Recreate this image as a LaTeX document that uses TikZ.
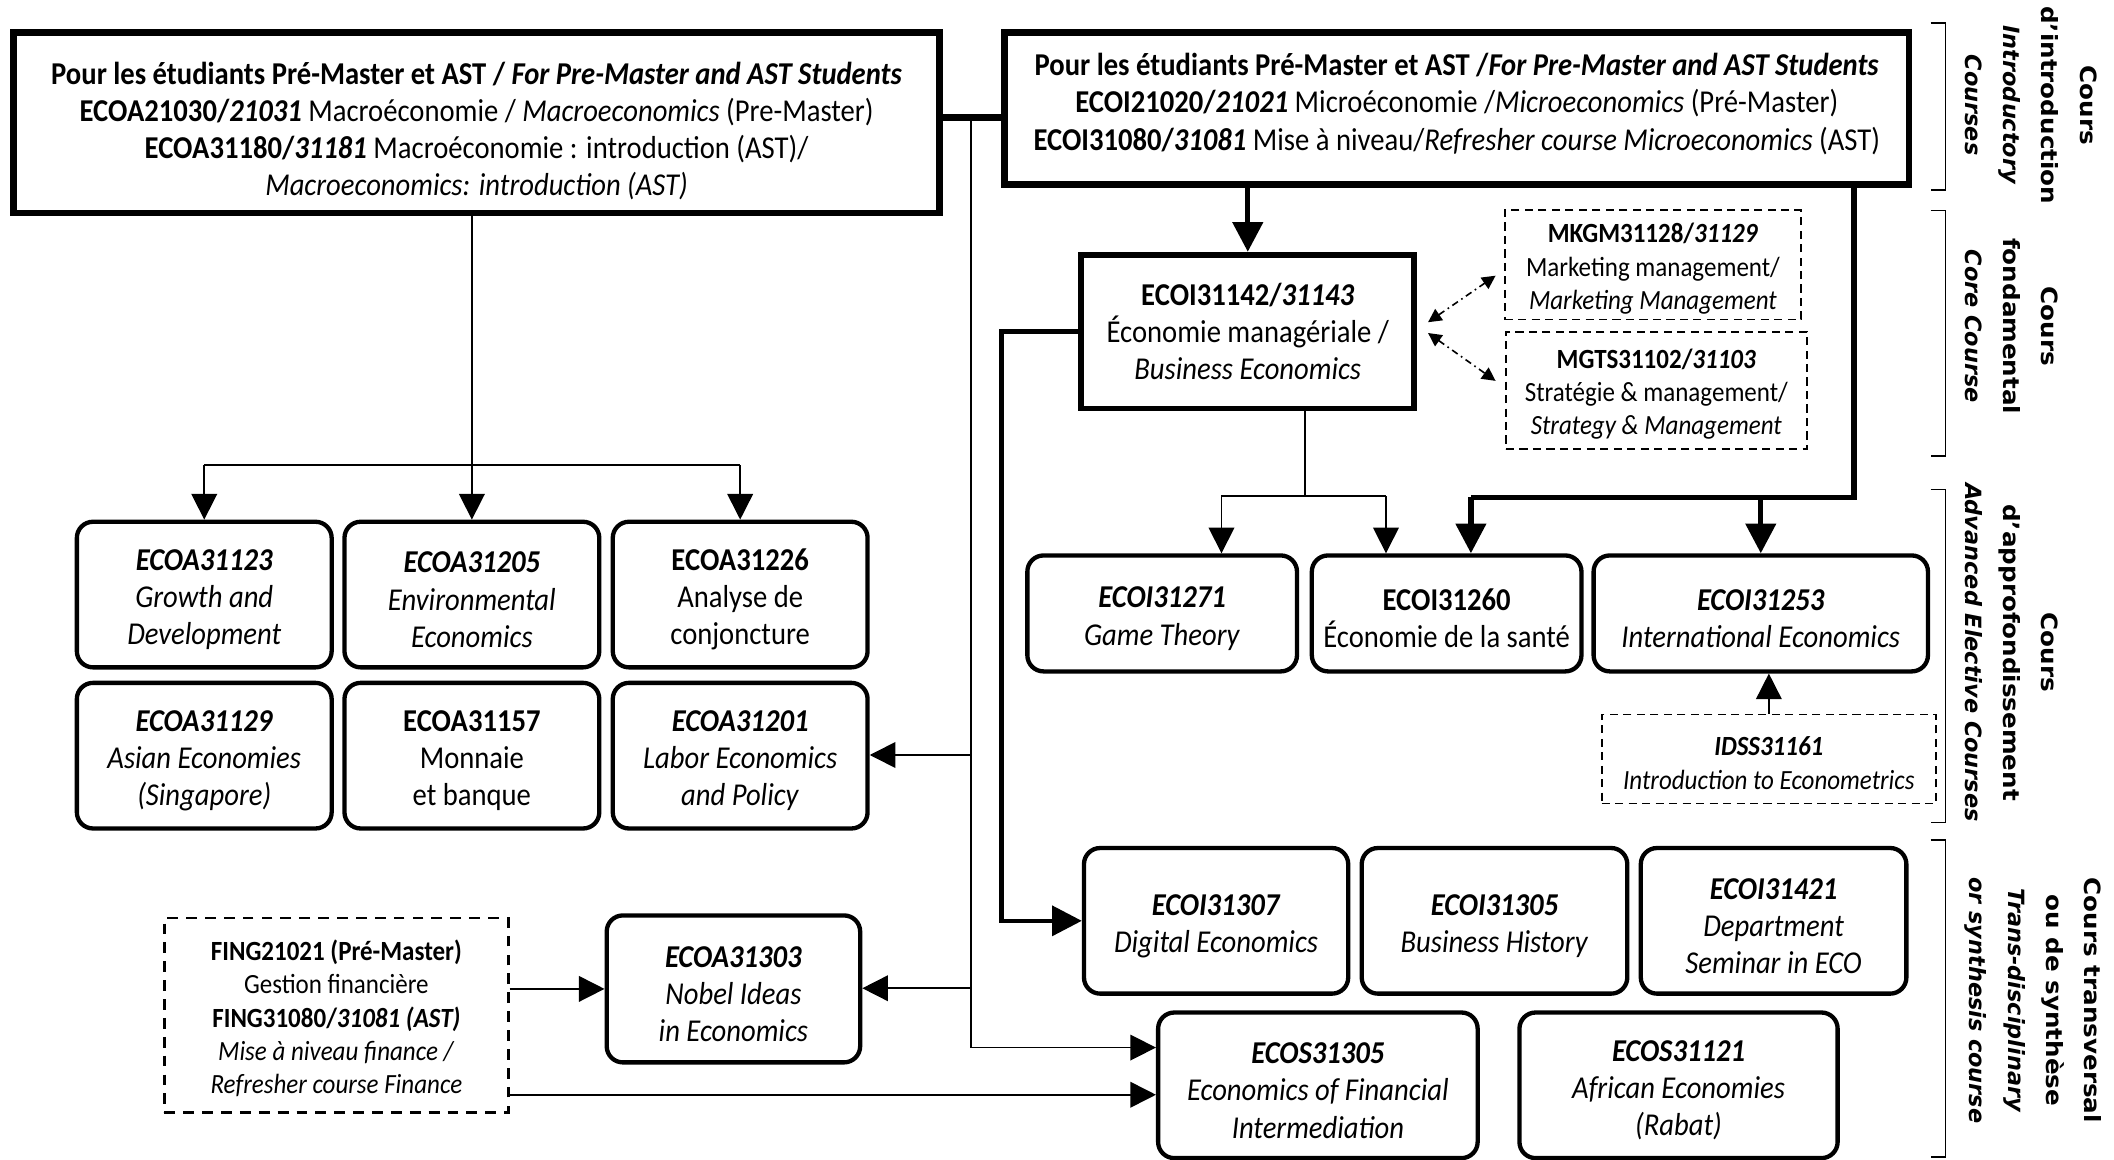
\documentclass[tikz,border=0pt]{standalone}
\usepackage{fontspec}
\setmainfont{Carlito}[FakeStretch=0.9]
\newfontfamily\labfont{DejaVu Sans}[BoldFeatures={FakeStretch=1.1}]
\usetikzlibrary{arrows.meta,calc}
\newcommand\mainsz{\fontsize{11.8pt}{13.8pt}\selectfont}
\newcommand\dashsz{\fontsize{10.3pt}{12.3pt}\selectfont}
\newcommand\labsz{\labfont\bfseries\fontsize{8.3pt}{14.2pt}\selectfont}
\newcommand\stA{\rule{0pt}{11.6pt}}
\newcommand\stD{\rule{0pt}{10pt}}
\tikzset{
  base/.style={align=center, font=\mainsz, inner sep=0pt, fill=white},
  topbox/.style={base, draw, line width=2.5pt},
  thickbox/.style={base, draw, line width=2.2pt},
  rbox/.style={base, draw, line width=1.6pt, rounded corners=6pt},
  gbox/.style={rbox, minimum width=94.5pt, minimum height=54pt},
  abox/.style={rbox, minimum height=43pt},
  dbox/.style={base, draw, line width=0.7pt, dash pattern=on 3pt off 2pt, font=\dashsz},
  fbox/.style={base, draw, line width=1pt, dash pattern=on 4pt off 3pt, font=\dashsz},
  thinln/.style={line width=0.6pt},
  arr/.style={thinln, -{Triangle[length=9.5pt,width=9.5pt]}},
  tline/.style={line width=2pt},
  tarr/.style={line width=2pt, -{Triangle[length=11pt,width=11pt]}},
  ddarr/.style={line width=0.6pt, dash pattern=on 2.5pt off 1.5pt on 0.6pt off 1.5pt,
     {Triangle[length=5pt,width=5pt]}-{Triangle[length=5pt,width=5pt]}},
  brack/.style={line width=0.6pt},
  lab/.style={rotate=-90, anchor=south, align=center, font=\labsz, inner sep=0pt},
}
\begin{document}
\begin{tikzpicture}[x=0.5pt,y=-0.5pt]
\useasboundingbox[fill=white] (0,0) rectangle (1568,860);

% top boxes
\node[topbox, minimum width=343.5pt, minimum height=67pt] (TL) at (353.5,91)
 {\rule{0pt}{14.5pt}\textbf{Pour les étudiants Pré-Master et AST / \textit{For Pre-Master and AST Students}}\\
  \textbf{ECOA21030/\textit{21031}} Macroéconomie / \textit{Macroeconomics} (Pre-Master)\\
  \textbf{ECOA31180/\textit{31181}} Macroéconomie : introduction (AST)/\\
  \textit{Macroeconomics: introduction (AST)}};
\node[topbox, minimum width=335.5pt, minimum height=56.5pt] (TR) at (1080.5,80.5)
 {\textbf{Pour les étudiants Pré-Master et AST /\textit{For Pre-Master and AST Students}}\\
  \textbf{ECOI21020/\textit{21021}} Microéconomie /\textit{Microeconomics} (Pré-Master)\\
  \textbf{ECOI31080/\textit{31081}} Mise à niveau/\textit{Refresher course Microeconomics} (AST)\rule[-5pt]{0pt}{1pt}};

% core
\node[thickbox, minimum width=123.5pt, minimum height=57pt] (N142) at (925.5,246)
 {\textbf{ECOI31142/\textit{31143}}\\ Économie managériale /\\ \textit{Business Economics}};
\node[dbox, minimum width=110pt, minimum height=40.5pt] (MKGM) at (1226,196.5)
 {\stD\textbf{MKGM31128/\textit{31129}}\\ Marketing management/\\ \textit{Marketing Management}};
\node[dbox, minimum width=111.5pt, minimum height=43.5pt] (MGTS) at (1228.5,289.5)
 {\stD\textbf{MGTS31102/\textit{31103}}\\ Stratégie \& management/\\ \textit{Strategy \& Management}};

% left grid
\node[gbox] (A123) at (151.5,441) {\stA\textbf{\textit{ECOA31123}}\\ \textit{Growth and}\\ \textit{Development}};
\node[gbox] (A205) at (350,441) {\stA\textbf{\textit{ECOA31205}}\\ \textit{Environmental}\\ \textit{Economics}};
\node[gbox] (A226) at (549,441) {\stA\textbf{ECOA31226}\\ Analyse de\\ conjoncture};
\node[gbox] (A129) at (151.5,560.5) {\stA\textbf{\textit{ECOA31129}}\\ \textit{Asian Economies}\\ \textit{(Singapore)}};
\node[gbox] (A157) at (350,560.5) {\stA\textbf{ECOA31157}\\ Monnaie\\ et banque};
\node[gbox] (A201) at (549,560.5) {\stA\textbf{\textit{ECOA31201}}\\ \textit{Labor Economics}\\ \textit{and Policy}};

\node[rbox, minimum width=94pt, minimum height=54.5pt] (N303) at (544,733.5)
 {\stA\textbf{\textit{ECOA31303}}\\ \textit{Nobel Ideas}\\ \textit{in Economics}};
\node[fbox, minimum width=127.5pt, minimum height=72pt] (FING) at (249.5,753)
 {\stD\textbf{FING21021 (Pré-Master)}\\ Gestion financière\\ \textbf{FING31080/\textit{31081 (AST)}}\\
  \textit{Mise à niveau finance /}\\ \textit{Refresher course Finance}};

% advanced
\node[abox, minimum width=100pt] (I271) at (862,455) {\stA\textbf{\textit{ECOI31271}}\\ \textit{Game Theory}};
\node[abox, minimum width=100pt] (I260) at (1073,455) {\stA\textbf{ECOI31260}\\ Économie de la santé};
\node[abox, minimum width=124pt] (I253) at (1306,455) {\stA\textbf{\textit{ECOI31253}}\\ \textit{International Economics}};
\node[dbox, minimum width=124pt, minimum height=33pt] (IDSS) at (1312,563)
 {\stD\textbf{\textit{IDSS31161}}\\ \textit{Introduction to Econometrics}};

% trans-disciplinary
\node[rbox, minimum width=98pt, minimum height=54pt] (I307) at (902,683) {\stA\textbf{\textit{ECOI31307}}\\ \textit{Digital Economics}};
\node[rbox, minimum width=98.5pt, minimum height=54pt] (I305) at (1108.5,683) {\stA\textbf{\textit{ECOI31305}}\\ \textit{Business History}};
\node[rbox, minimum width=98.5pt, minimum height=54pt] (I421) at (1315.5,683) {\stA\textbf{\textit{ECOI31421}}\\ \textit{Department}\\ \textit{Seminar in ECO}};
\node[rbox, minimum width=118.5pt, minimum height=54pt] (S305) at (977.5,805) {\stA\textbf{\textit{ECOS31305}}\\ \textit{Economics of Financial}\\ \textit{Intermediation}};
\node[rbox, minimum width=118pt, minimum height=54pt] (S121) at (1245,805) {\stA\textbf{\textit{ECOS31121}}\\ \textit{African Economies}\\ \textit{(Rabat)}};

% connectors: top boxes and central spine
\coordinate (J) at (720,87);
\coordinate (V1) at (720,560);
\coordinate (V2) at (720,733);
\coordinate (Vb) at (720,777);
\draw[line width=2.4pt] (TL.east |- J) -- (TR.west |- J);
\draw[thinln] (J) -- (Vb);
\draw[arr] (V1) -- (V1 -| A201.east);
\draw[arr] (V2) -- (V2 -| N303.east);
\draw[arr] (Vb) -- (Vb -| S305.west);

% left fan
\coordinate (H) at (0,345);
\draw[arr] (A205.north |- TL.south) -- (A205.north);
\draw[thinln] (A123.north |- H) -- (A226.north |- H);
\draw[arr] (A123.north |- H) -- (A123.north);
\draw[arr] (A226.north |- H) -- (A226.north);

% finance
\coordinate (K) at (0,812);
\draw[arr] (FING.east |- N303.west) -- (N303.west);
\draw[arr] (FING.east |- K) -- (S305.west |- K);

% right side
\draw[tarr] (N142.north |- TR.south) -- (N142.north);
\draw[ddarr] ([shift={(8,-7)}]N142.east) -- ([shift={(-6,8)}]MKGM.west);
\draw[ddarr] ([shift={(8,1)}]N142.east) -- ([shift={(-7,-7)}]MGTS.west);

\coordinate (P) at (968,368);
\coordinate (P1) at (906,368);
\coordinate (P2) at (1028,368);
\draw[thinln] (P |- N142.south) -- (P);
\draw[thinln] (P1) -- (P2);
\draw[arr] (P1) -- (P1 |- I271.north);
\draw[arr] (P2) -- (P2 |- I260.north);

\coordinate (Q) at (1375,369);
\coordinate (Q1) at (1091,369);
\coordinate (Q2) at (1306,369);
\draw[tline] (Q |- TR.south) -- (Q) -- (Q1);
\draw[tarr] (Q1) -- (Q1 |- I260.north);
\draw[tarr] (Q2) -- (Q2 |- I253.north);

\draw[arr] (IDSS.north) -- (IDSS.north |- I253.south);

\draw[tarr, line width=1.6pt] (N142.west) -- ++(-57,0) |- (I307.west);

% brackets
\draw[brack] (1432,17) -| (1443,141) -- (1432,141);
\draw[brack] (1432,156) -| (1443,338) -- (1432,338);
\draw[brack] (1432,363) -| (1443,610) -- (1432,610);
\draw[brack] (1432,623) -| (1443,858) -- (1432,858);

% group labels
\node[lab] (G1) at (1457,78) {Cours\\d’introduction\\\textit{Introductory}\\\textit{Courses}};
\node[lab] (G2) at (1457,242) {Cours\\fondamental\\\textit{Core Course}};
\node[lab] (G3) at (1457,484) {Cours\\d’approfondissement\\\textit{Advanced Elective Courses}};
\node[lab] (G4) at (1457,742) {Cours transversal\\ou de synthèse\\\textit{Trans-disciplinary}\\\textit{or synthesis course}};
\end{tikzpicture}
\end{document}
